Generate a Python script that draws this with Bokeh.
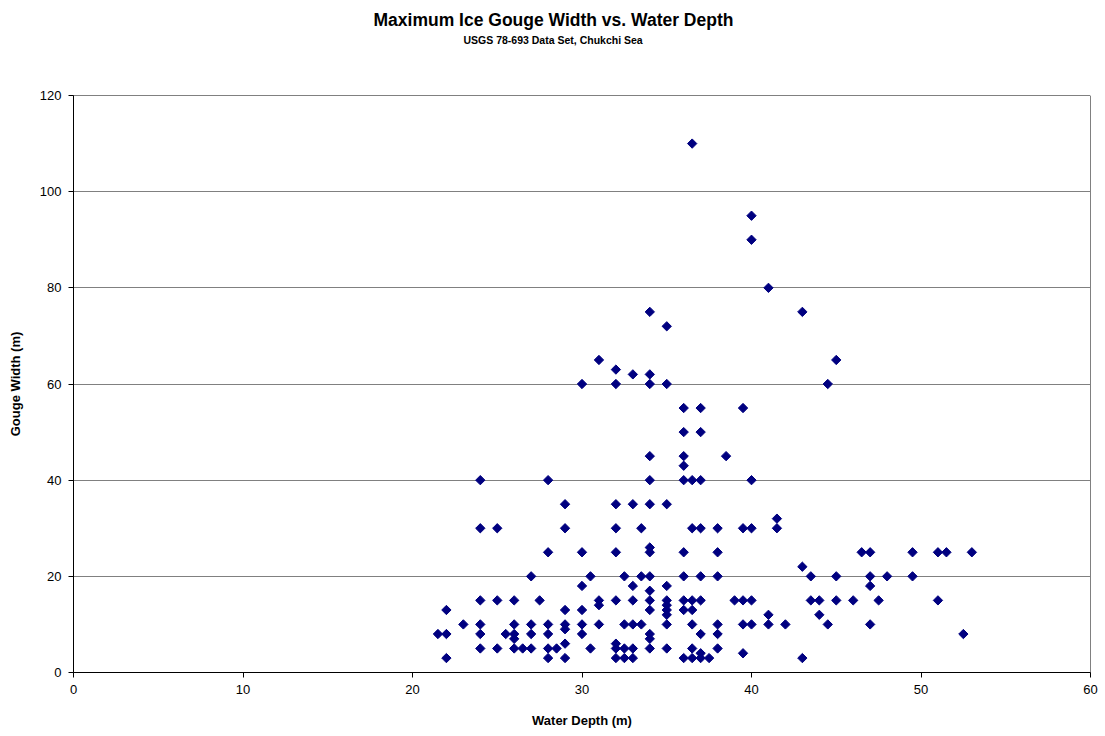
import numpy as np
from bokeh.plotting import figure
from bokeh.models import Title, SingleIntervalTicker, FixedTicker, LinearAxis, Range1d
from bokeh.embed import file_html
from bokeh.resources import INLINE

# Water depth (m) and maximum gouge width (m)
depth = [21.5,
         22, 22, 22,
         23,
         24, 24, 24, 24, 24, 24,
         25, 25, 25,
         25.5,
         26, 26, 26, 26, 26,
         26.5,
         27, 27, 27, 27,
         27.5,
         28, 28, 28, 28, 28, 28,
         28.5,
         29, 29, 29, 29, 29, 29, 29,
         30, 30, 30, 30, 30, 30,
         30.5, 30.5,
         31, 31, 31, 31,
         32, 32, 32, 32, 32, 32, 32, 32, 32,
         32.5, 32.5, 32.5, 32.5,
         33, 33, 33, 33, 33, 33, 33,
         33.5, 33.5, 33.5,
         34, 34, 34, 34, 34, 34, 34, 34, 34, 34, 34, 34, 34, 34, 34,
         35, 35, 35, 35, 35, 35, 35, 35, 35, 35,
         36, 36, 36, 36, 36, 36, 36, 36, 36, 36,
         36.5, 36.5, 36.5, 36.5, 36.5, 36.5, 36.5, 36.5,
         37, 37, 37, 37, 37, 37, 37, 37, 37,
         37.5,
         38, 38, 38, 38, 38, 38,
         38.5,
         39,
         39.5, 39.5, 39.5, 39.5, 39.5,
         40, 40, 40, 40, 40, 40,
         41, 41, 41,
         41.5, 41.5,
         42,
         43, 43, 43,
         43.5, 43.5,
         44, 44,
         44.5, 44.5,
         45, 45, 45,
         46,
         46.5,
         47, 47, 47, 47,
         47.5,
         48,
         49.5, 49.5,
         51, 51,
         51.5,
         52.5,
         53]
width = [8,
         13, 8, 3,
         10,
         40, 30, 15, 10, 8, 5,
         30, 15, 5,
         8,
         15, 10, 8, 7, 5,
         5,
         20, 10, 8, 5,
         15,
         40, 25, 10, 8, 5, 3,
         5,
         35, 30, 13, 10, 9, 6, 3,
         60, 25, 18, 13, 10, 8,
         20, 5,
         65, 15, 14, 10,
         63, 60, 35, 30, 25, 15, 6, 5, 3,
         20, 10, 5, 3,
         62, 35, 18, 15, 10, 5, 3,
         30, 20, 10,
         75, 62, 60, 45, 40, 35, 26, 25, 20, 17, 15, 13, 8, 7, 5,
         72, 60, 35, 18, 15, 14, 13, 12, 10, 5,
         55, 50, 45, 43, 40, 25, 20, 15, 13, 3,
         110, 40, 30, 15, 13, 10, 5, 3,
         55, 50, 40, 30, 20, 15, 8, 4, 3,
         3,
         30, 25, 20, 10, 8, 5,
         45,
         15,
         55, 30, 15, 10, 4,
         95, 90, 40, 30, 15, 10,
         80, 12, 10,
         32, 30,
         10,
         75, 22, 3,
         20, 15,
         15, 12,
         60, 10,
         65, 20, 15,
         15,
         25,
         25, 20, 18, 10,
         15,
         20,
         25, 20,
         25, 15,
         25,
         8,
         25]

title_text = "Maximum Ice Gouge Width vs. Water Depth"
subtitle_text = "USGS 78-693 Data Set, Chukchi Sea"

FONT = "Liberation Sans"

p = figure(width=1105, height=736, output_backend="svg", toolbar_location=None,
           x_range=Range1d(0, 60), y_range=Range1d(0, 120),
           min_border_left=73, min_border_right=15, min_border_top=95,
           min_border_bottom=64)

xax = p.below[0]
yax = p.left[0]

p.scatter(depth, width, marker="square", angle=np.pi / 4, size=6.6,
          fill_color="#000080", line_color="#000080")

# spacer between frame top and the subtitle: one white tick at the right edge
spacer = LinearAxis(ticker=FixedTicker(ticks=[60]), axis_line_color=None,
                    major_tick_line_color="white", minor_tick_line_color=None,
                    major_tick_out=50, major_tick_in=0, minor_tick_out=0,
                    major_label_standoff=0, major_label_text_font_size="0px",
                    major_label_text_color=None)
p.add_layout(spacer, "above")

sub = Title(text=subtitle_text, align="left", offset=390, standoff=0,
            text_font=FONT, text_font_size="10.5px", text_font_style="bold",
            text_color="black")
main = Title(text=title_text, align="left", offset=300, standoff=4,
             text_font=FONT, text_font_size="17.5px", text_font_style="bold",
             text_color="black")
p.add_layout(sub, "above")
p.add_layout(main, "above")

for ax in (xax, yax):
    ax.axis_line_color = "black"
    ax.major_tick_line_color = "black"
    ax.major_tick_out = 5
    ax.major_tick_in = 0
    ax.minor_tick_line_color = None
    ax.major_label_text_font = FONT
    ax.major_label_text_font_size = "13px"
    ax.major_label_text_color = "black"
    ax.axis_label_text_font = FONT
    ax.axis_label_text_font_size = "13px"
    ax.axis_label_text_font_style = "bold"
    ax.axis_label_text_color = "black"
    ax.major_label_standoff = 7

xax.ticker = SingleIntervalTicker(interval=10)
yax.ticker = SingleIntervalTicker(interval=20)
xax.axis_label = "Water Depth (m)"
yax.axis_label = "Gouge Width (m)"
xax.axis_label_standoff = 16
yax.axis_label_standoff = 14

p.xgrid.grid_line_color = None
p.ygrid.grid_line_color = "#808080"
p.ygrid.grid_line_width = 1
p.outline_line_color = "#808080"
p.outline_line_width = 1
p.background_fill_color = "white"
p.border_fill_color = "white"

open("out.html", "w").write(file_html(p, INLINE))
